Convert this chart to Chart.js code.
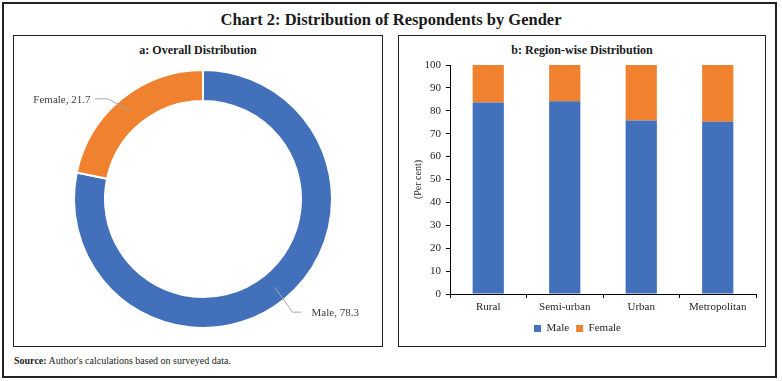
<!DOCTYPE html>
<html>
<head>
<meta charset="utf-8">
<script src="https://cdn.jsdelivr.net/npm/chart.js@4.4.1/dist/chart.umd.min.js"></script>
<style>
  html, body { margin: 0; padding: 0; background: #fff; }
  body { width: 782px; height: 381px; position: relative; overflow: hidden; font-family: 'Liberation Serif', serif; color: #222; }
  .box { position: absolute; box-sizing: border-box; }
  #frame { left: 2px; top: 2px; width: 775px; height: 376px; border: 2px solid #222; }
  #panelA { left: 13px; top: 35px; width: 370px; height: 312px; border: 1.5px solid #222; }
  #panelB { left: 398px; top: 35px; width: 368px; height: 312px; border: 1.5px solid #222; }
  #mainTitle { position: absolute; left: 0; width: 782px; top: 9px; text-align: center; font-size: 16.5px; line-height: 22px; font-weight: 600; color: #1a1a1a; }
  .ptitle { position: absolute; top: 42px; text-align: center; font-size: 12px; font-weight: bold; line-height: 16px; color: #1a1a1a; }
  #tA { left: 13px; width: 370px; }
  #tB { left: 398px; width: 368px; }
  #source { position: absolute; left: 14px; top: 354px; font-size: 10px; line-height: 14px; color: #222; }
  canvas { position: absolute; }
  #cA { left: 14px; top: 37px; }
  #cB { left: 399px; top: 37px; }
</style>
</head>
<body>
<div class="box" id="frame"></div>
<div class="box" id="panelA"></div>
<div class="box" id="panelB"></div>
<div id="mainTitle">Chart 2: Distribution of Respondents by Gender</div>
<div class="ptitle" id="tA">a: Overall Distribution</div>
<div class="ptitle" id="tB">b: Region-wise Distribution</div>
<div id="source"><b>Source:</b> Author's calculations based on surveyed data.</div>
<canvas id="cA" width="368" height="308"></canvas>
<canvas id="cB" width="366" height="309"></canvas>
<script>
// ---- data ----
const donutLabels = ['Male', 'Female'];
const donutValues = [78.3, 21.7];
const regions = ['Rural', 'Semi-urban', 'Urban', 'Metropolitan'];
const maleShare = [83.6, 84.2, 75.8, 75.2];
const femaleShare = [16.4, 15.8, 24.2, 24.8];
const yTickStep = 10;
const yMax = 100;

const BLUE = '#4270BA';
const ORANGE = '#F0822F';
const FONT = 'Liberation Serif';

// leader-line styling per slice: elbow offset and text gap
const leaderStyle = [
  { ex: 18, ey: 25, hx: 9, gap: 10 },
  { ex: -24, ey: -12, hx: -13, gap: 4 }
];

const donutLabelPlugin = {
  id: 'donutLabels',
  afterDatasetsDraw(chart) {
    const ctx = chart.ctx;
    const meta = chart.getDatasetMeta(0);
    ctx.save();
    ctx.font = '11px "' + FONT + '"';
    ctx.textBaseline = 'middle';
    meta.data.forEach((arc, i) => {
      const p = arc.getProps(['x', 'y', 'startAngle', 'endAngle', 'innerRadius', 'outerRadius'], true);
      const mid = (p.startAngle + p.endAngle) / 2;
      const r = (p.innerRadius + p.outerRadius) / 2;
      const x0 = p.x + Math.cos(mid) * r;
      const y0 = p.y + Math.sin(mid) * r;
      const s = leaderStyle[i];
      const x1 = x0 + s.ex, y1 = y0 + s.ey;
      const x2 = x1 + s.hx;
      ctx.strokeStyle = '#a6a6a6';
      ctx.lineWidth = 1;
      ctx.beginPath();
      ctx.moveTo(x0, y0);
      ctx.lineTo(x1, y1);
      ctx.lineTo(x2, y1);
      ctx.stroke();
      ctx.fillStyle = '#404040';
      const txt = donutLabels[i] + ', ' + donutValues[i];
      if (s.hx >= 0) { ctx.textAlign = 'left'; ctx.fillText(txt, x2 + s.gap, y1 + 1); }
      else { ctx.textAlign = 'right'; ctx.fillText(txt, x2 - s.gap, y1 + 1); }
    });
    ctx.restore();
  }
};

new Chart(document.getElementById('cA'), {
  type: 'doughnut',
  data: {
    labels: donutLabels,
    datasets: [{
      data: donutValues,
      backgroundColor: [BLUE, ORANGE],
      borderColor: '#ffffff',
      borderWidth: 2
    }]
  },
  options: {
    responsive: false,
    animation: false,
    cutout: '76%',
    layout: { padding: { left: 59, right: 49, top: 32, bottom: 16 } },
    plugins: { legend: { display: false }, tooltip: { enabled: false } }
  },
  plugins: [donutLabelPlugin]
});

new Chart(document.getElementById('cB'), {
  type: 'bar',
  data: {
    labels: regions,
    datasets: [
      { label: 'Male', data: maleShare, backgroundColor: BLUE, borderWidth: 0 },
      { label: 'Female', data: femaleShare, backgroundColor: ORANGE, borderWidth: 0 }
    ]
  },
  options: {
    responsive: false,
    animation: false,
    layout: { padding: { left: 0, right: 9, top: 28, bottom: 2 } },
    datasets: { bar: { categoryPercentage: 0.8, barPercentage: 0.51 } },
    scales: {
      x: {
        stacked: true,
        grid: { display: true, offset: true, drawOnChartArea: false, drawTicks: true, tickLength: 4, color: '#000' },
        border: { display: true, color: '#000', width: 1 },
        ticks: { font: { family: FONT, size: 11 }, color: '#262626', padding: 3 },
        afterFit(scale) { scale.height = 22; }
      },
      y: {
        stacked: true,
        min: 0,
        max: yMax,
        grid: { display: true, drawOnChartArea: false, drawTicks: true, tickLength: 4, color: '#000' },
        border: { display: true, color: '#000', width: 1 },
        ticks: { stepSize: yTickStep, font: { family: FONT, size: 11 }, color: '#262626', padding: 5 },
        title: { display: true, text: '(Per cent)', font: { family: FONT, size: 10 }, color: '#262626', padding: { top: 13, bottom: 0 } },
        afterFit(scale) { scale.width = 51; }
      }
    },
    plugins: {
      legend: {
        display: true,
        position: 'bottom',
        labels: { boxWidth: 7, boxHeight: 7, font: { family: FONT, size: 11 }, color: '#262626', padding: 7 }
      },
      tooltip: { enabled: false }
    }
  }
});
</script>
</body>
</html>
